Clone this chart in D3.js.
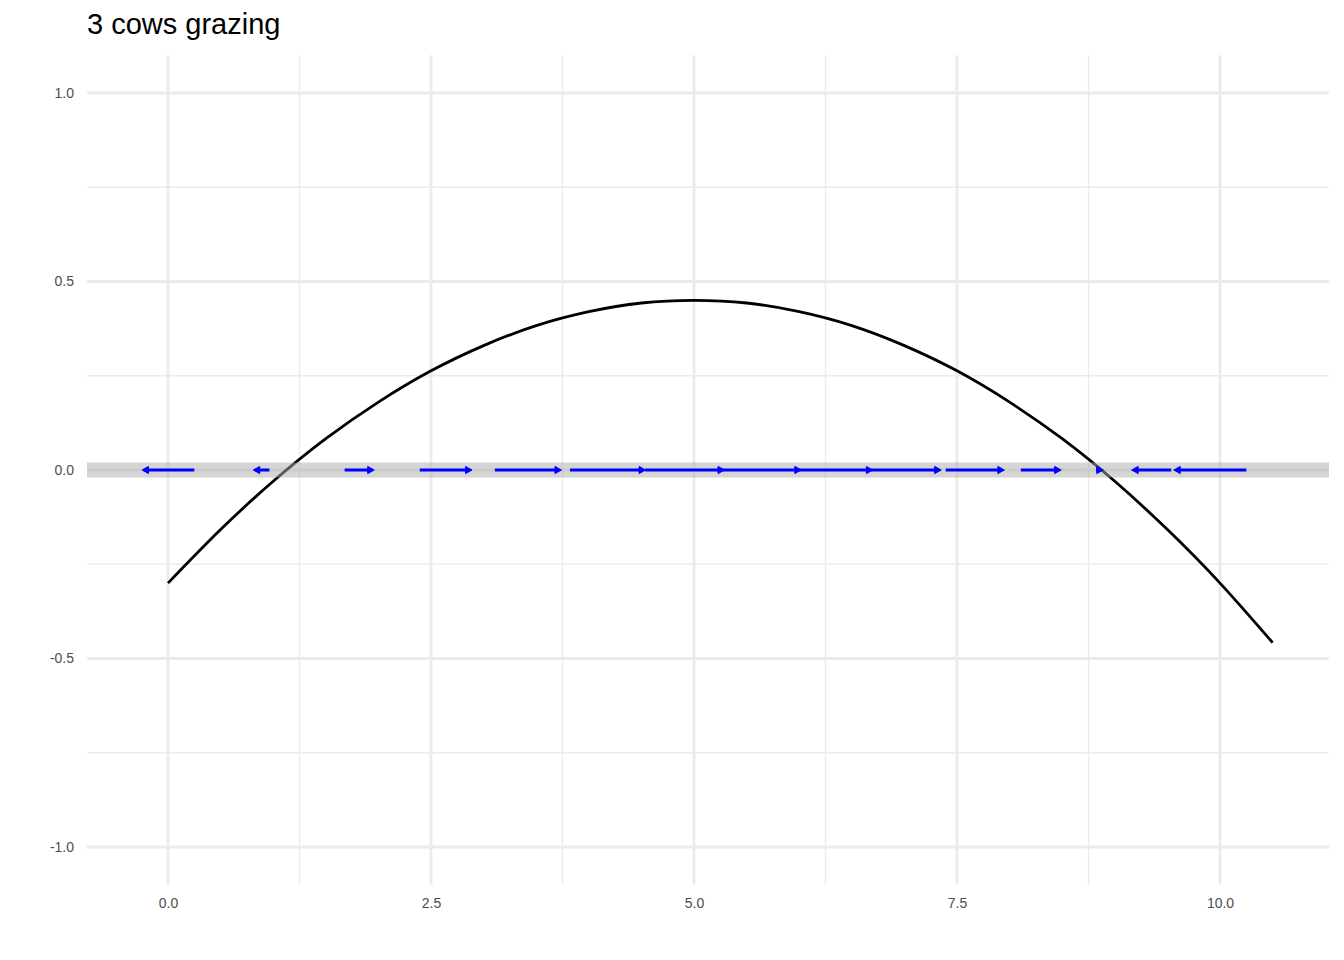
<!DOCTYPE html>
<html>
<head>
<meta charset="utf-8">
<script src="https://cdn.jsdelivr.net/npm/d3@7"></script>
<style>
  html, body { margin: 0; padding: 0; background: #ffffff; }
  svg { display: block; font-family: "Liberation Sans", Arial, sans-serif; }
</style>
</head>
<body>
<svg id="chart" width="1344" height="960"></svg>
<script>
// ---- data ----
const title = "3 cows grazing";

// growth curve (x, rate)
const curveX = [0, 0.5, 1, 1.5, 2, 2.5, 3, 3.5, 4, 4.5, 5, 5.5, 6, 6.5, 7, 7.5, 8, 8.5, 9, 9.5, 10, 10.5];
const curveY = [-0.30, -0.158, -0.03, 0.083, 0.18, 0.263, 0.33, 0.383, 0.42, 0.443, 0.45, 0.443, 0.42, 0.383, 0.33, 0.263, 0.18, 0.083, -0.03, -0.158, -0.30, -0.458];

// phase-line arrows along y = 0
const arrowStart = [0.25, 0.964, 1.679, 2.393, 3.107, 3.821, 4.536, 5.25, 5.964, 6.679, 7.393, 8.107, 8.821, 9.536, 10.25];
const arrowEnd   = [-0.247, 0.81, 1.96, 2.89, 3.74, 4.54, 5.29, 6.02, 6.70, 7.35, 7.95, 8.49, 8.89, 9.16, 9.56];

// band around zero
const bandHalf = 0.02;

// axes ticks
const xMajor = [0, 2.5, 5, 7.5, 10];
const xMinor = [1.25, 3.75, 6.25, 8.75];
const yMajor = [-1, -0.5, 0, 0.5, 1];
const yMinor = [-0.75, -0.25, 0.25, 0.75];

// ---- layout ----
const svg = d3.select("#chart");
const panel = { left: 87, right: 1329, top: 55.3, bottom: 884.7 };

const x = d3.scaleLinear().domain([-0.770, 11.036]).range([panel.left, panel.right]);
const y = d3.scaleLinear().domain([-1.1, 1.1]).range([panel.bottom, panel.top]);

// title
svg.append("text")
  .attr("x", 87).attr("y", 34)
  .style("font-size", "29px")
  .attr("fill", "#000")
  .text(title);

const grid = svg.append("g");
// minor grid
grid.selectAll("line.xminor").data(xMinor).join("line")
  .attr("x1", d => x(d)).attr("x2", d => x(d))
  .attr("y1", panel.top).attr("y2", panel.bottom)
  .attr("stroke", "#ebebeb").attr("stroke-width", 1.4);
grid.selectAll("line.yminor").data(yMinor).join("line")
  .attr("y1", d => y(d)).attr("y2", d => y(d))
  .attr("x1", panel.left).attr("x2", panel.right)
  .attr("stroke", "#ebebeb").attr("stroke-width", 1.4);
// major grid
grid.selectAll("line.xmajor").data(xMajor).join("line")
  .attr("x1", d => x(d)).attr("x2", d => x(d))
  .attr("y1", panel.top).attr("y2", panel.bottom)
  .attr("stroke", "#ebebeb").attr("stroke-width", 2.8);
grid.selectAll("line.ymajor").data(yMajor).join("line")
  .attr("y1", d => y(d)).attr("y2", d => y(d))
  .attr("x1", panel.left).attr("x2", panel.right)
  .attr("stroke", "#ebebeb").attr("stroke-width", 2.8);

// axes (labels only)
const fmt = d => d3.format(".1f")(d).replace("\u2212", "-");
const xAxis = svg.append("g")
  .attr("transform", `translate(0,${panel.bottom})`)
  .call(d3.axisBottom(x).tickValues(xMajor).tickFormat(fmt).tickSize(0).tickPadding(13));
const yAxis = svg.append("g")
  .attr("transform", `translate(${panel.left},0)`)
  .call(d3.axisLeft(y).tickValues(yMajor).tickFormat(fmt).tickSize(0).tickPadding(13));
[xAxis, yAxis].forEach(a => {
  a.attr("font-size", null).attr("font-family", null);
  a.select(".domain").remove();
  a.selectAll("text")
    .style("font-family", "'Liberation Sans', Arial, sans-serif")
    .style("font-size", "14px")
    .attr("fill", "#4d4d4d");
});

// curve
const pts = curveX.map((d, i) => [d, curveY[i]]);
svg.append("path")
  .datum(pts)
  .attr("fill", "none")
  .attr("stroke", "#000")
  .attr("stroke-width", 2.8)
  .attr("d", d3.line().x(d => x(d[0])).y(d => y(d[1])).curve(d3.curveNatural));

// band
svg.append("rect")
  .attr("x", panel.left).attr("width", panel.right - panel.left)
  .attr("y", y(bandHalf)).attr("height", y(-bandHalf) - y(bandHalf))
  .attr("fill", "#ababab").attr("fill-opacity", 0.5);

// arrows
const arrows = arrowStart.map((s, i) => ({ s, e: arrowEnd[i] }));
const ag = svg.append("g");
const headLen = 6.5, headHalf = 3.6;
ag.selectAll("line").data(arrows).join("line")
  .attr("x1", d => x(d.s))
  .attr("x2", d => x(d.e) - Math.sign(d.e - d.s) * headLen * 0.6)
  .attr("y1", y(0)).attr("y2", y(0))
  .attr("stroke", "#0000ff").attr("stroke-width", 3);
ag.selectAll("path").data(arrows).join("path")
  .attr("fill", "#0000ff")
  .attr("stroke", "#0000ff").attr("stroke-width", 1)
  .attr("stroke-linejoin", "miter")
  .attr("d", d => {
    const tip = x(d.e), dir = Math.sign(d.e - d.s), yy = y(0);
    const base = tip - dir * headLen;
    return `M${tip},${yy}L${base},${yy - headHalf}L${base},${yy + headHalf}Z`;
  });
</script>
</body>
</html>
